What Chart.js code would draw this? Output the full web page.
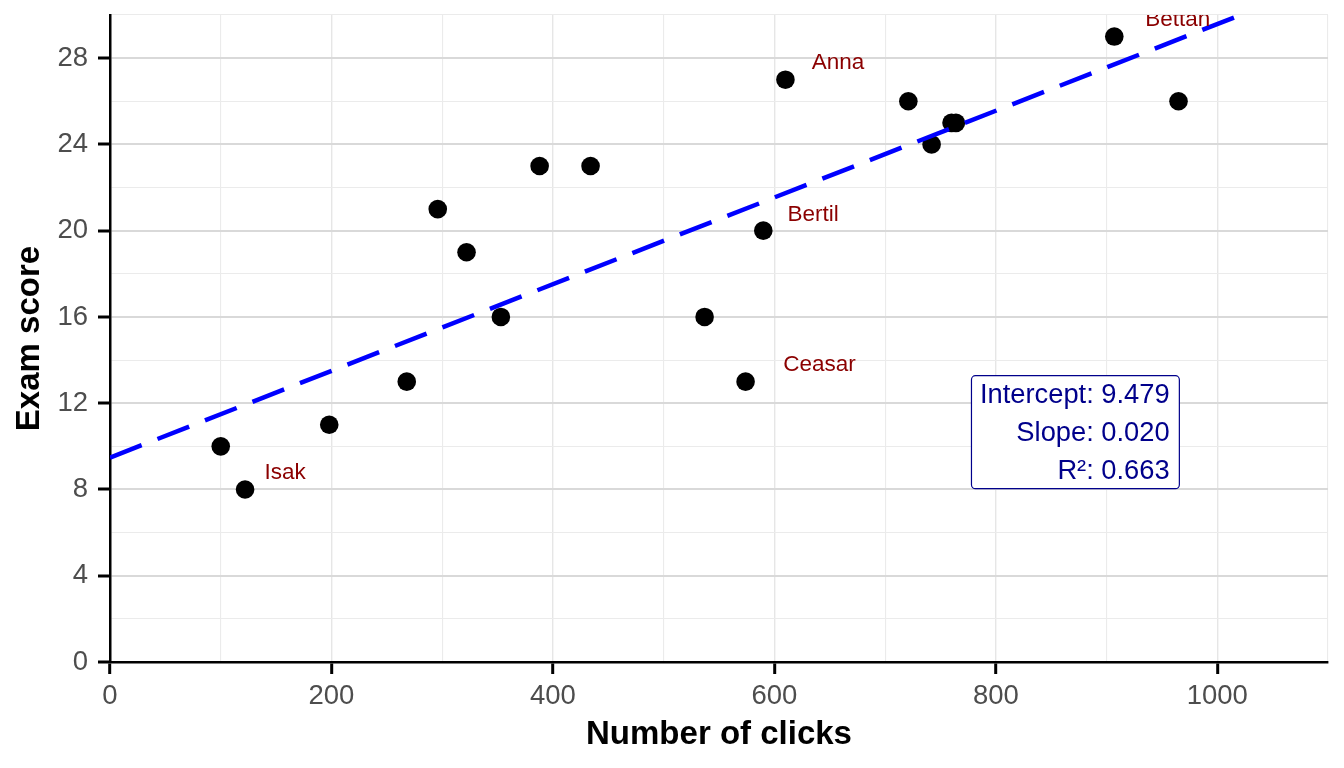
<!DOCTYPE html>
<html>
<head>
<meta charset="utf-8">
<script src="https://cdn.jsdelivr.net/npm/chart.js@4/dist/chart.umd.min.js"></script>
<style>
  html, body { margin: 0; padding: 0; background: #ffffff; }
  #c { display: block; }
</style>
</head>
<body>
<canvas id="c" width="1344" height="768"></canvas>
<script>
// ---- data ----
const clicks = [100, 122, 198, 268, 296, 322, 353, 388, 434, 537, 574, 590, 610, 721, 742, 760, 764, 907, 965];
const scores = [10, 8, 11, 13, 21, 19, 16, 23, 23, 16, 13, 20, 27, 26, 24, 25, 25, 29, 26];
const names  = ["", "Isak", "", "", "", "", "", "", "", "", "Ceasar", "Bertil", "Anna", "", "", "", "", "Bettan", ""];
const fitIntercept = 9.479;
const fitSlope = 0.0201;
const statLines = ["Intercept: 9.479", "Slope: 0.020", "R\u00b2: 0.663"];
const xTicksMajor = 200, xTicksMinor = 100;
const yTicksMajor = 4, yTicksMinor = 2;
const xRange = [0, 1100];
const yRange = [0, 30];

// ---- styles (not data) ----
const FONT = "'Liberation Sans', Arial, Helvetica, sans-serif";
const labelOffsets = {
  Isak:   [19.5, -16.6],
  Ceasar: [37.6, -16.8],
  Bertil: [24.3, -16.2],
  Anna:   [26.4, -16.5],
  Bettan: [30.9, -17.0]
};
const statAnchor = { x: 957, y: 10.6 }; // right edge of text / middle line, in data units

const points = clicks.map((x, i) => ({ x: x, y: scores[i] }));
const fitLine = xRange.map(x => ({ x: x, y: fitIntercept + fitSlope * x }));

const labelPlugin = {
  id: 'pointLabels',
  afterDatasetsDraw(chart) {
    const { ctx, chartArea, scales } = chart;
    ctx.save();
    ctx.beginPath();
    ctx.rect(chartArea.left, chartArea.top, chartArea.right - chartArea.left, chartArea.bottom - chartArea.top);
    ctx.clip();
    ctx.font = "22.5px " + FONT;
    ctx.fillStyle = '#8B0000';
    ctx.textAlign = 'left';
    ctx.textBaseline = 'middle';
    names.forEach((n, i) => {
      if (!n) return;
      const off = labelOffsets[n] || [20, -16];
      const px = scales.x.getPixelForValue(clicks[i]);
      const py = scales.y.getPixelForValue(scores[i]);
      ctx.fillText(n, px + off[0], py + off[1]);
    });
    ctx.restore();

    // statistics box
    ctx.save();
    ctx.font = "27.3px " + FONT;
    const tx = scales.x.getPixelForValue(statAnchor.x);
    const ty = scales.y.getPixelForValue(statAnchor.y);
    const lh = 38.2;
    let maxW = 0;
    statLines.forEach(s => { maxW = Math.max(maxW, ctx.measureText(s).width); });
    const left = tx - maxW - 8.5, right = tx + 9.7;
    const top = ty - 57.7, bottom = ty + 55.3;
    ctx.fillStyle = '#ffffff';
    ctx.strokeStyle = '#00008B';
    ctx.lineWidth = 1.2;
    ctx.beginPath();
    if (ctx.roundRect) ctx.roundRect(left, top, right - left, bottom - top, 4);
    else ctx.rect(left, top, right - left, bottom - top);
    ctx.fill();
    ctx.stroke();
    ctx.fillStyle = '#00008B';
    ctx.textAlign = 'right';
    ctx.textBaseline = 'middle';
    statLines.forEach((s, i) => {
      ctx.fillText(s, tx, ty + (i - 1) * lh);
    });
    ctx.restore();
  }
};

function gridStyle(major, majorColor, majorWidth) {
  return {
    color: c => (Math.round(c.tick.value) % major === 0 ? majorColor : '#EBEBEB'),
    lineWidth: c => (Math.round(c.tick.value) % major === 0 ? majorWidth : 1.1),
    tickColor: c => (Math.round(c.tick.value) % major === 0 ? '#000000' : 'rgba(0,0,0,0)'),
    tickWidth: 3,
    tickLength: 12,
    drawTicks: true
  };
}

new Chart(document.getElementById('c'), {
  type: 'scatter',
  data: {
    datasets: [
      {
        type: 'line',
        data: fitLine,
        borderColor: '#0000FF',
        borderWidth: 4.5,
        borderDash: [34, 17],
        pointRadius: 0,
        fill: false,
        order: 0
      },
      {
        type: 'scatter',
        data: points,
        backgroundColor: '#000000',
        borderColor: '#000000',
        borderWidth: 0,
        pointRadius: 9.3,
        pointHoverRadius: 9.3,
        order: 1
      }
    ]
  },
  options: {
    responsive: false,
    animation: false,
    devicePixelRatio: 1,
    layout: { padding: { top: 15, right: 16, left: 0, bottom: 0 } },
    plugins: {
      legend: { display: false },
      tooltip: { enabled: false }
    },
    scales: {
      x: {
        type: 'linear',
        min: xRange[0],
        max: xRange[1],
        grid: gridStyle(xTicksMajor, '#E6E6E6', 1.4),
        border: { display: true, color: '#000000', width: 2.5 },
        ticks: {
          stepSize: xTicksMinor,
          autoSkip: false,
          maxRotation: 0,
          padding: 9,
          color: '#4D4D4D',
          font: { family: FONT, size: 27.5, lineHeight: 1 },
          callback: v => (Math.round(v) % xTicksMajor === 0 ? String(v) : '')
        },
        title: {
          display: true,
          text: 'Number of clicks',
          color: '#000000',
          font: { family: FONT, size: 33, weight: 'bold', lineHeight: 1 },
          padding: { top: 0, bottom: 17 }
        },
        afterFit: s => { s.height = 106; s.paddingLeft = 0; s.paddingRight = 0; }
      },
      y: {
        type: 'linear',
        min: yRange[0],
        max: yRange[1],
        grid: gridStyle(yTicksMajor, '#D9D9D9', 2),
        border: { display: true, color: '#000000', width: 2.5 },
        ticks: {
          stepSize: yTicksMinor,
          autoSkip: false,
          padding: 10,
          color: '#4D4D4D',
          font: { family: FONT, size: 27.5, lineHeight: 1 },
          callback: v => (Math.round(v) % yTicksMajor === 0 ? String(v) : '')
        },
        title: {
          display: true,
          text: 'Exam score',
          color: '#000000',
          font: { family: FONT, size: 33, weight: 'bold', lineHeight: 1 },
          padding: { top: 13.5, bottom: 0 }
        },
        afterFit: s => { s.width = 110; s.paddingTop = 0; s.paddingBottom = 0; }
      }
    }
  },
  plugins: [labelPlugin]
});
</script>
</body>
</html>
